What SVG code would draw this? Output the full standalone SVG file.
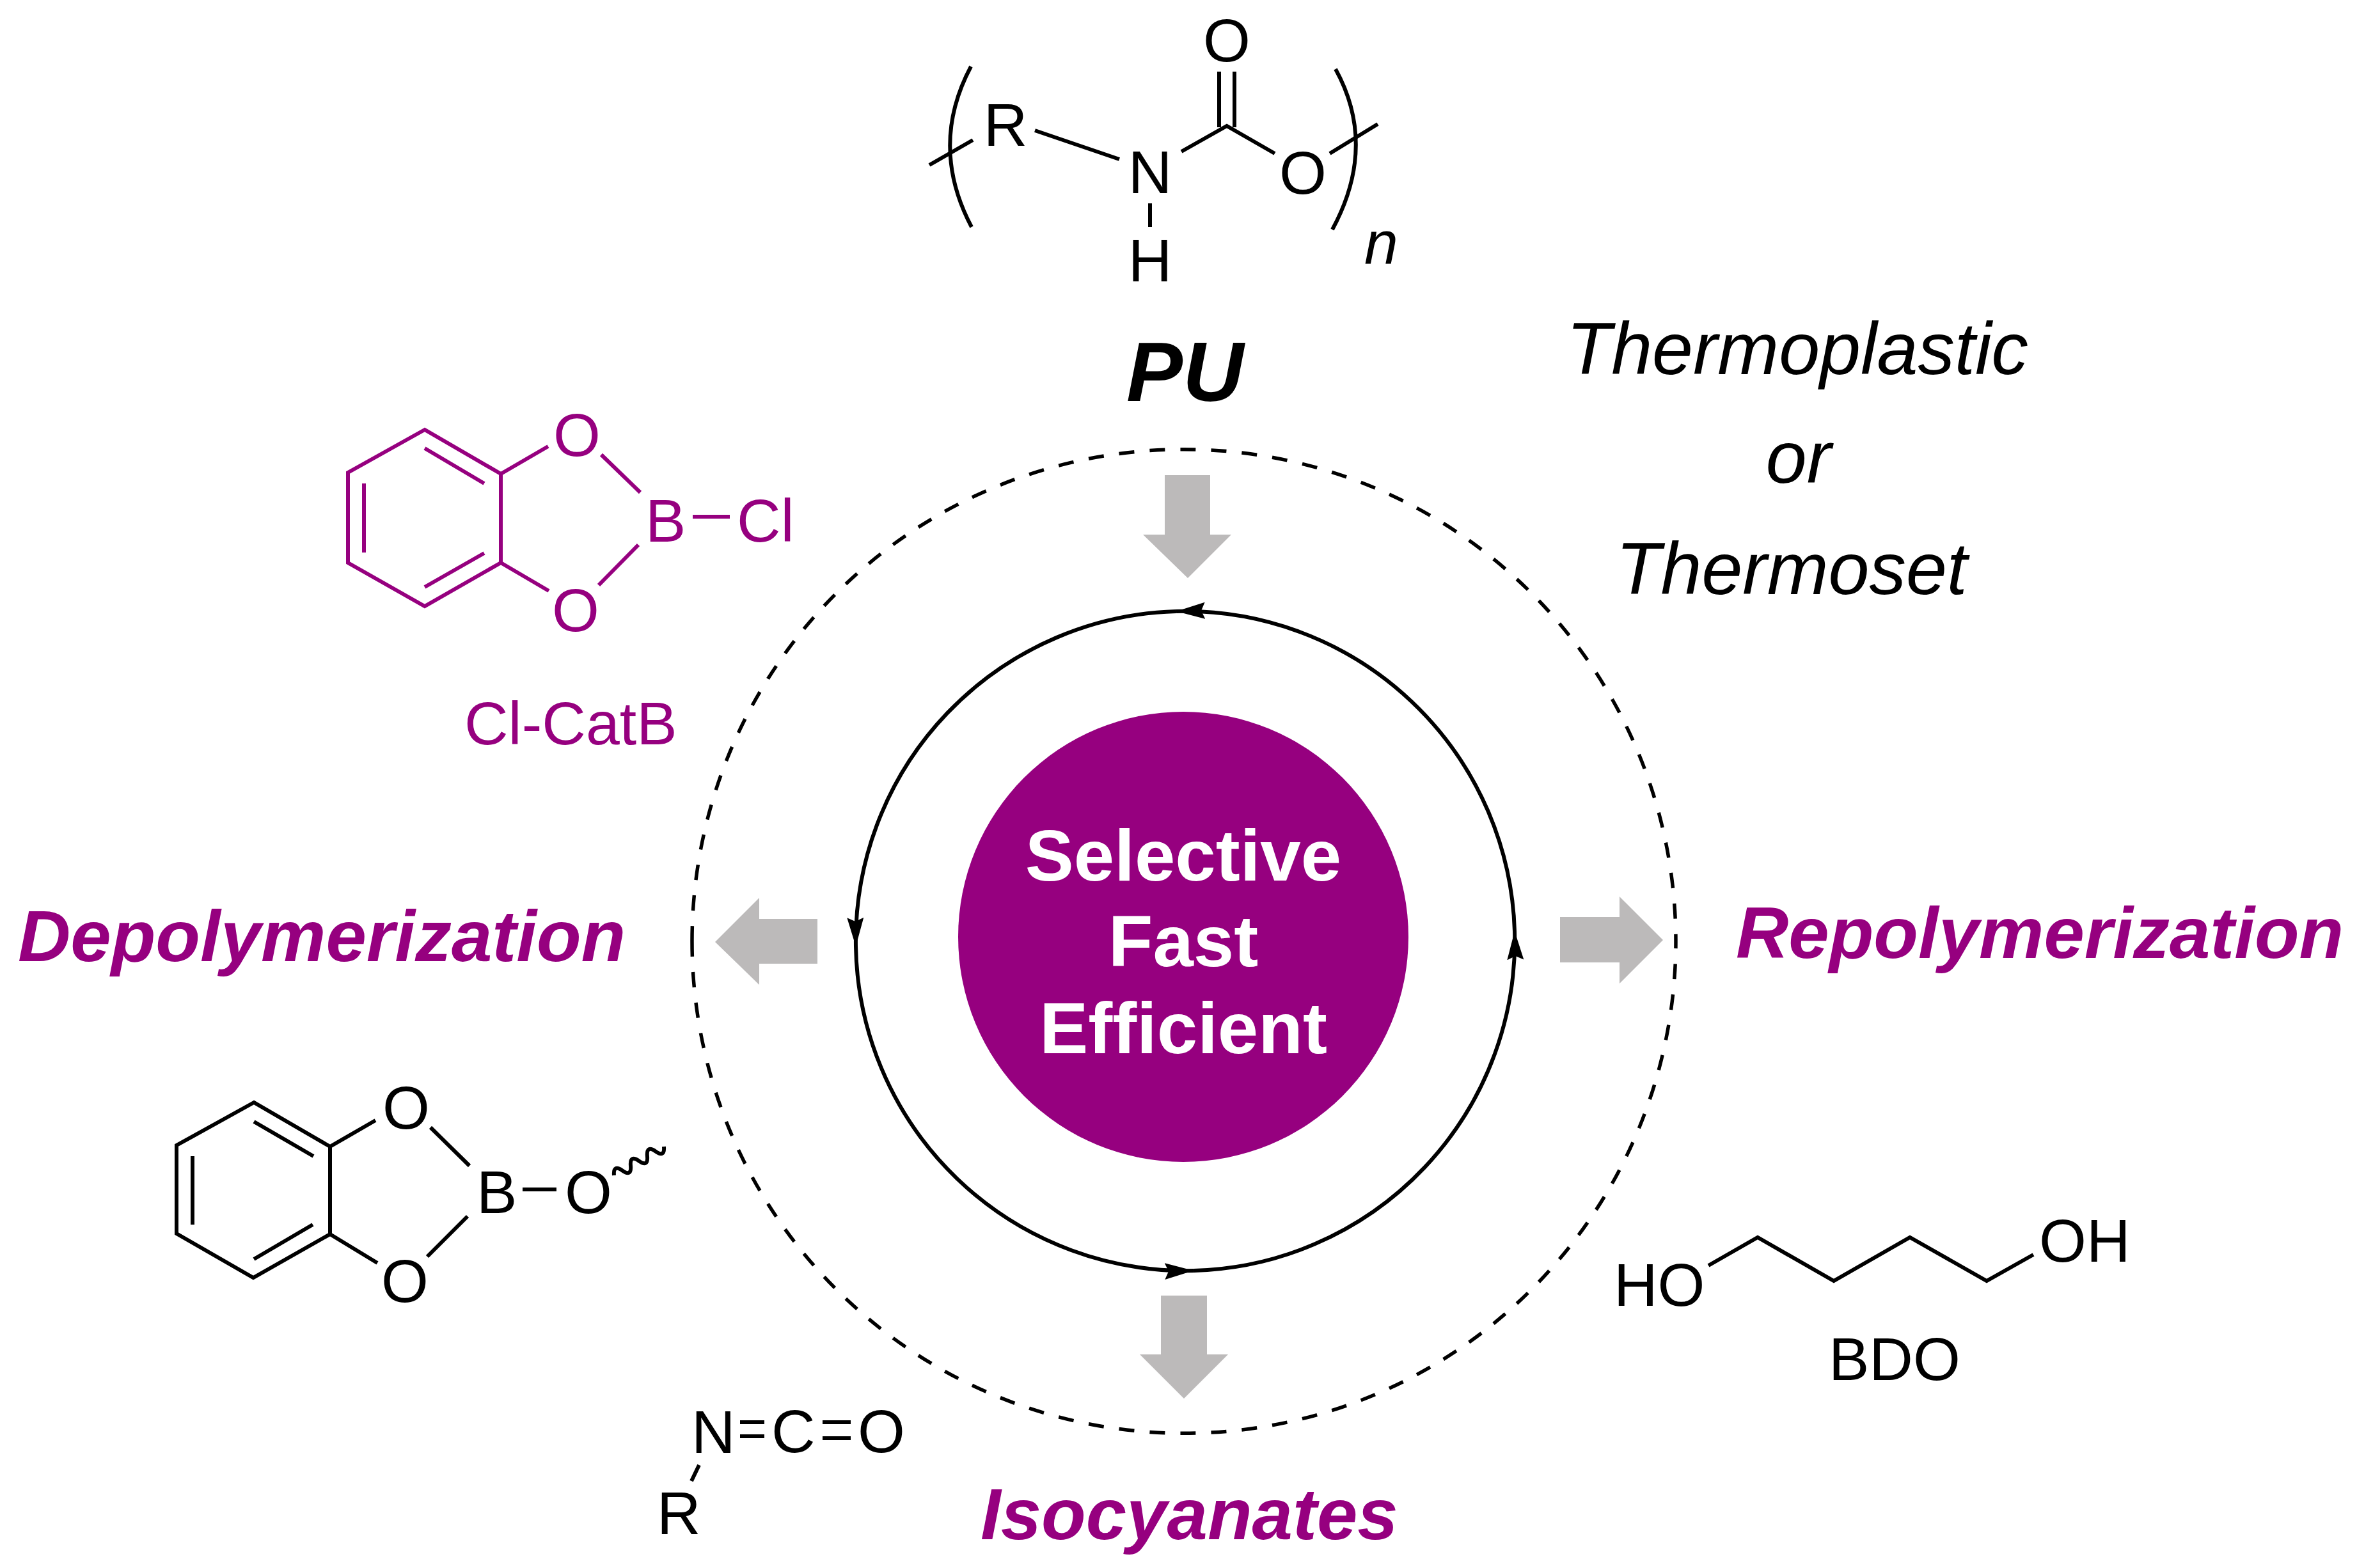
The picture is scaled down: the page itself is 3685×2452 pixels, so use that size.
<svg xmlns="http://www.w3.org/2000/svg" width="3685" height="2452" viewBox="0 0 3685 2452">
<defs>
<style>
text{font-family:"Liberation Sans",Arial,sans-serif}
.b{stroke:#000;stroke-width:6;fill:none;stroke-linecap:butt;stroke-linejoin:miter}
.p{stroke:#96007f;stroke-width:6;fill:none}
.c{font-size:95px;fill:#000}
.cp{font-size:95px;fill:#96007f}
.h{font-size:114px;font-weight:bold;font-style:italic;fill:#96007f}
.t{font-size:115px;font-style:italic;fill:#000;text-anchor:middle}
.d{font-size:114px;font-weight:bold;fill:#fff;text-anchor:middle}
.g{fill:#bcbaba}
.m{text-anchor:middle}
</style>
<marker id="ah" markerUnits="userSpaceOnUse" markerWidth="46" markerHeight="28" viewBox="0 0 46 28" refX="45" refY="14" orient="auto"><path d="M0 1L45 14L0 27L6 14Z" fill="#000"/></marker>
</defs>
<rect width="3685" height="2452" fill="#fff"/>
<g id="connectors">
<path d="M1082 1472A769 769 0 1 0 2620 1472" fill="none" stroke="#000" stroke-width="5.5" stroke-dasharray="24 24.1"/>
<path d="M1082 1472A769 769 0 1 1 2620 1472" fill="none" stroke="#000" stroke-width="5.5" stroke-dasharray="24 24.1"/>
<g fill="none" stroke="#000" stroke-width="6">
<path d="M1839 956A516 516 0 0 0 1338 1480" marker-end="url(#ah)"/>
<path d="M1338 1480A516 516 0 0 0 1866 1987" marker-end="url(#ah)"/>
<path d="M1866 1987A516 516 0 0 0 2368 1456" marker-end="url(#ah)"/>
<path d="M2368 1456A516 516 0 0 0 1839 956" marker-end="url(#ah)"/>
</g>
<path id="arrow-top" class="g" d="M1821 743H1892V836H1925L1857 904L1787 836H1821Z"/>
<path id="arrow-bottom" class="g" d="M1815 2026H1887V2118H1920L1851 2187L1782 2118H1815Z"/>
<path id="arrow-left" class="g" d="M1278 1437V1507H1187V1540L1118 1473L1187 1404V1437Z"/>
<path id="arrow-right" class="g" d="M2439 1434V1505H2532V1538L2600 1470L2532 1402V1434Z"/>
</g>
<g id="hub">
<circle cx="1850" cy="1465" r="352" fill="#96007f"/>
<text class="d" x="1850" y="1377">Selective</text>
<text class="d" x="1850" y="1511">Fast</text>
<text class="d" x="1850" y="1647">Efficient</text>
</g>
<g id="pu">
<path class="b" d="M1518 104Q1452 228 1519 355M2088 108Q2154 228 2083 359"/>
<path class="b" d="M1453 258L1521 219M1618 204L1750 249M1798 318V355M1847 237L1918 197L1993 240M1906 112V199M1930 112V199M2079 240L2154 194"/>
<text class="c m" x="1572" y="228">R</text>
<text class="c m" x="1798" y="302">N</text>
<text class="c m" x="1798" y="440">H</text>
<text class="c m" x="2037" y="303">O</text>
<text class="c m" x="1918" y="96">O</text>
<text class="c" x="2133" y="413" font-style="italic">n</text>
<text x="1761" y="627" font-size="132" font-weight="bold" font-style="italic">PU</text>
</g>
<g id="morphology">
<text class="t" x="2810" y="585">Thermoplastic</text>
<text class="t" x="2812" y="755">or</text>
<text class="t" x="2801" y="929">Thermoset</text>
</g>
<g id="cl-catb">
<path class="p" d="M664 672L544 739V880L664 948L783 880V741ZM664 701L757 756M569 756V864M664 918L757 865M783 741L857 698M940 711L1001 770M1083 808H1141M998 852L936 915M783 880L858 924"/>
<text class="cp m" x="902" y="713">O</text>
<text class="cp m" x="900" y="987">O</text>
<text class="cp" x="1009" y="847">B</text>
<text class="cp" x="1152" y="847">Cl</text>
<text class="cp" x="726" y="1164">Cl-CatB</text>
</g>
<g id="boronate">
<path class="b" d="M397 1724L276 1791V1929L396 1998L516 1930V1793ZM397 1754L490 1808M301 1808V1915M397 1969L489 1915M516 1793L587 1752M673 1763L734 1823M817 1860H870M731 1902L668 1965M516 1930L590 1975"/>
<path class="b" transform="translate(960 1838) rotate(-30)" d="M0 0q7.5 -16 15 0t15 0t15 0t15 0t15 0t15 0"/>
<text class="c m" x="635" y="1765">O</text>
<text class="c m" x="633" y="2036">O</text>
<text class="c" x="745" y="1897">B</text>
<text class="c m" x="920" y="1897">O</text>
</g>
<g id="isocyanate">
<path class="b" d="M1157 2224H1195M1157 2246H1195M1286 2224H1330M1286 2249H1330M1093 2291L1081 2316"/>
<text class="c" x="1081" y="2272">N</text>
<text class="c" x="1206" y="2271">C</text>
<text class="c m" x="1378" y="2271">O</text>
<text class="c" x="1027" y="2399">R</text>
</g>
<g id="bdo">
<path class="b" d="M2671 1979L2748 1935L2867 2003L2986 1935L3106 2003L3179 1962"/>
<text class="c" x="2523" y="2042">HO</text>
<text class="c" x="3188" y="1973">OH</text>
<text class="c" x="2859" y="2158">BDO</text>
</g>
<g id="labels">
<text class="h" x="28" y="1503">Depolymerization</text>
<text class="h" x="2714" y="1498">Repolymerization</text>
<text class="h" x="1533" y="2407">Isocyanates</text>
</g>
</svg>
